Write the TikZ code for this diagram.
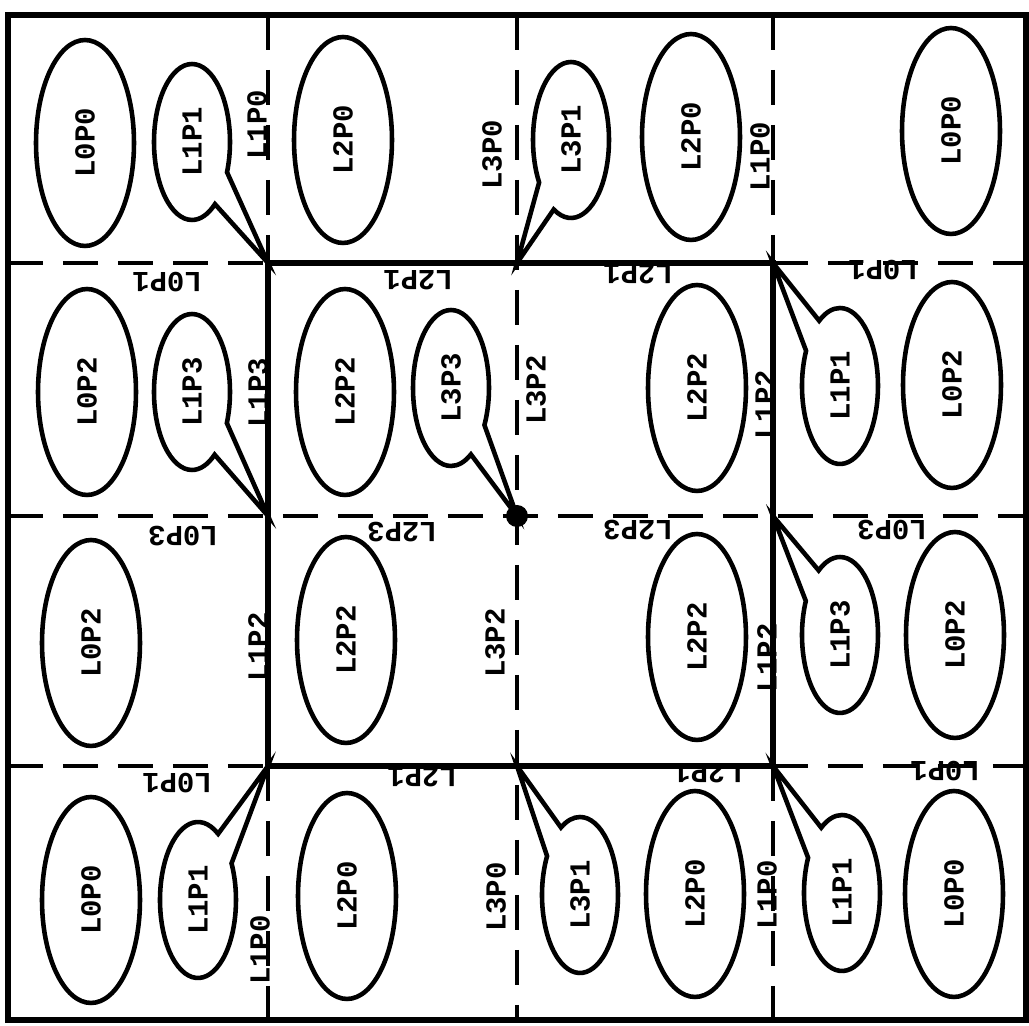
\documentclass[tikz,border=0pt]{standalone}
\usepackage{fontspec}
\usepackage{graphicx}
\setmonofont{Liberation Mono}
\usetikzlibrary{shapes.geometric,shapes.callouts}

\newcommand{\vtext}[1]{\rotatebox{90}{#1}}

\begin{document}
\begin{tikzpicture}[x=0.02cm, y=-0.02cm,
    lbl/.style={font=\ttfamily\bfseries\fontsize{16.5}{18}\selectfont, inner sep=0pt},
    side/.style={lbl, rotate=90},
    flip/.style={lbl, rotate=180},
    proc/.style={lbl, ellipse, draw, line width=2.6pt,
        minimum width=1.96cm, minimum height=4.12cm},
    bubble/.style={lbl, ellipse callout, draw, line width=2.6pt,
        minimum width=1.52cm, minimum height=3.12cm,
        callout pointer arc=30, callout absolute pointer={#1}},
    grid/.style={line width=2pt, dash pattern=on 0.7cm off 0.4cm},
    wall/.style={line width=3pt}]
    \useasboundingbox (0,0) rectangle (1029,1026);

    % Corners of the inner square and the cross points
    \coordinate (a1) at (268,263);
    \coordinate (b1) at (517,263);
    \coordinate (c1) at (773,263);
    \coordinate (a2) at (268,516);
    \coordinate (b2) at (517,516);
    \coordinate (c2) at (773,516);
    \coordinate (a3) at (268,766);
    \coordinate (b3) at (517,766);
    \coordinate (c3) at (773,766);

    % Frame
    \draw[line width=3.2pt] (8,15) rectangle (1026,1020);

    % Dashed cuts
    \draw[grid] (268,15) -- (a1);
    \draw[grid] (a3) -- (268,1020);
    \draw[grid] (773,15) -- (c1);
    \draw[grid] (c3) -- (773,1020);
    \draw[grid] (517,15) -- (517,1020);
    \draw[grid] (8,263) -- (a1);
    \draw[grid] (c1) -- (1026,263);
    \draw[grid] (8,516) -- (1026,516);
    \draw[grid] (8,766) -- (a3);
    \draw[grid] (c3) -- (1026,766);

    % Inner square
    \draw[wall] (a1) -- (c1) -- (c3) -- (a3) -- cycle;
    \fill (b2) circle (0.22cm);

    % Row 1
    \node[proc] (e11) at (85,143) {\vtext{L0P0}};
    \node[bubble={(a1)}] (e12) at (192,142) {\vtext{L1P1}};
    \node[proc] (e13) at (343,140) {\vtext{L2P0}};
    \node[bubble={(b1)}] (e14) at (571,140) {\vtext{L3P1}};
    \node[proc] (e15) at (691,137) {\vtext{L2P0}};
    \node[proc] (e16) at (951,131) {\vtext{L0P0}};
    \node[side] (s11) at (257,125) {L1P0};
    \node[side] (s12) at (492,155) {L3P0};
    \node[side] (s13) at (760,157) {L1P0};

    % Row 2
    \node[proc] (e21) at (87,392) {\vtext{L0P2}};
    \node[bubble={(a2)}] (e22) at (192,392) {\vtext{L1P3}};
    \node[proc] (e23) at (345,392) {\vtext{L2P2}};
    \node[bubble={(b2)}] (e24) at (451,388) {\vtext{L3P3}};
    \node[proc] (e25) at (697,388) {\vtext{L2P2}};
    \node[bubble={(c1)}] (e26) at (840,386) {\vtext{L1P1}};
    \node[proc] (e27) at (952,385) {\vtext{L0P2}};
    \node[side] (s21) at (258,393) {L1P3};
    \node[side] (s22) at (536,390) {L3P2};
    \node[side] (s23) at (765,405) {L1P2};
    \node[flip] (f21) at (167,282) {L0P1};
    \node[flip] (f22) at (418,280) {L2P1};
    \node[flip] (f23) at (638,274) {L2P1};
    \node[flip] (f24) at (883,270) {L0P1};

    % Row 3
    \node[proc] (e31) at (91,643) {\vtext{L0P2}};
    \node[proc] (e32) at (346,640) {\vtext{L2P2}};
    \node[proc] (e33) at (697,637) {\vtext{L2P2}};
    \node[bubble={(c2)}] (e34) at (840,635) {\vtext{L1P3}};
    \node[proc] (e35) at (955,635) {\vtext{L0P2}};
    \node[side] (s31) at (258,647) {L1P2};
    \node[side] (s32) at (495,643) {L3P2};
    \node[side] (s33) at (767,658) {L1P2};
    \node[flip] (f31) at (183,536) {L0P3};
    \node[flip] (f32) at (402,532) {L2P3};
    \node[flip] (f33) at (638,530) {L2P3};
    \node[flip] (f34) at (892,530) {L0P3};

    % Row 4
    \node[proc] (e41) at (91,900) {\vtext{L0P0}};
    \node[bubble={(a3)}] (e42) at (198,900) {\vtext{L1P1}};
    \node[proc] (e43) at (347,896) {\vtext{L2P0}};
    \node[bubble={(b3)}] (e44) at (580,895) {\vtext{L3P1}};
    \node[proc] (e45) at (695,894) {\vtext{L2P0}};
    \node[bubble={(c3)}] (e46) at (842,893) {\vtext{L1P1}};
    \node[proc] (e47) at (954,894) {\vtext{L0P0}};
    \node[side] (s41) at (260,950) {L1P0};
    \node[side] (s42) at (496,897) {L3P0};
    \node[side] (s43) at (767,895) {L1P0};
    \node[flip] (f41) at (177,783) {L0P1};
    \node[flip] (f42) at (422,777) {L2P1};
    \node[flip] (f43) at (708,773) {L2P1};
    \node[flip] (f44) at (945,771) {L0P1};
\end{tikzpicture}
\end{document}
